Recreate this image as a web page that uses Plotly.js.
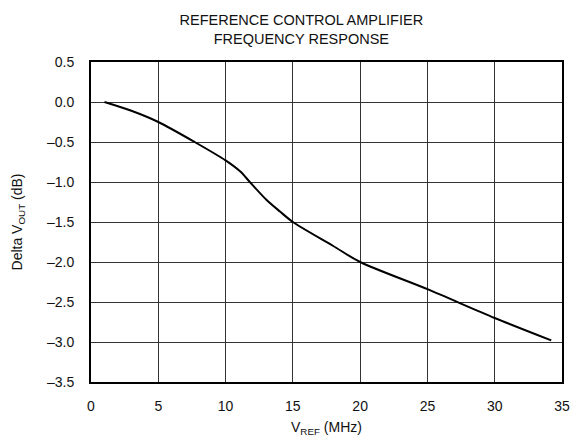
<!DOCTYPE html>
<html>
<head>
<meta charset="utf-8">
<script src="https://cdn.plot.ly/plotly-3.0.1.min.js"></script>
<style>html,body{margin:0;padding:0;background:#fff;}#chart{width:574px;height:445px;}</style>
</head>
<body>
<div id="chart"></div>
<script>
var freqMHz = [1, 3, 5, 7.7, 10, 11.1, 11.8, 13.05, 14.05, 15, 18, 20, 25, 30, 34.2];
var deltaVout = [0, -0.11, -0.25, -0.5, -0.73, -0.87, -1.0, -1.225, -1.37, -1.5, -1.8, -2.0, -2.34, -2.70, -2.98];
var xTickVals = [0, 5, 10, 15, 20, 25, 30, 35];
var xTickText = ["0", "5", "10", "15", "20", "25", "30", "35"];
var yTickVals = [0.5, 0, -0.5, -1, -1.5, -2, -2.5, -3, -3.5];
var yTickText = ["0.5", "0.0", "–0.5", "–1.0", "–1.5", "–2.0", "–2.5", "–3.0", "–3.5"];

var font = "Liberation Sans, Arial, sans-serif";
Plotly.newPlot("chart", [{
  x: freqMHz, y: deltaVout, type: "scatter", mode: "lines",
  line: {color: "#000", width: 2, shape: "spline", smoothing: 0.8},
  hoverinfo: "none"
}], {
  width: 574, height: 445,
  margin: {l: 91, r: 12, t: 62, b: 63},
  paper_bgcolor: "#fff", plot_bgcolor: "#fff",
  showlegend: false,
  title: {text: "REFERENCE CONTROL AMPLIFIER<br>FREQUENCY RESPONSE", x: 0.525, xanchor: "center", y: 0.943, yanchor: "middle", yref: "container", font: {family: font, size: 14.5, color: "#111"}},
  xaxis: {
    range: [0, 35], tickvals: xTickVals, ticktext: xTickText,
    showgrid: true, gridcolor: "#333", gridwidth: 1,
    showline: true, linecolor: "#000", linewidth: 2, mirror: true,
    zeroline: false, ticks: "", ticklabelstandoff: 10,
    tickfont: {family: font, size: 14, color: "#111"},
    title: {text: "V<sub>REF</sub> (MHz)", font: {family: font, size: 14, color: "#111"}, standoff: 9}
  },
  yaxis: {
    range: [-3.5, 0.5], tickvals: yTickVals, ticktext: yTickText,
    showgrid: true, gridcolor: "#333", gridwidth: 1,
    showline: true, linecolor: "#000", linewidth: 2, mirror: true,
    zeroline: false, ticks: "", ticklabelstandoff: 12,
    tickfont: {family: font, size: 14, color: "#111"},
    title: {text: "Delta V<sub>OUT</sub> (dB)", font: {family: font, size: 14, color: "#111"}, standoff: 21}
  }
}, {staticPlot: true, displayModeBar: false});
</script>
</body>
</html>
